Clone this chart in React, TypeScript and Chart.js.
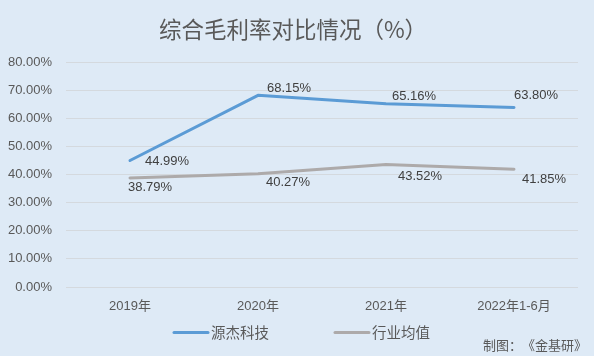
import React, { useEffect, useRef } from "react";
import { Chart, registerables } from "chart.js";

Chart.register(...registerables);

const categories = ["2019年", "2020年", "2021年", "2022年1-6月"];
const seriesNames = ["源杰科技", "行业均值"];
const yuanjieValues = [44.99, 68.15, 65.16, 63.8];
const industryValues = [38.79, 40.27, 43.52, 41.85];
const titleText = "综合毛利率对比情况（%）";
const footnoteParts = ["制图：", "《金基研》"];

const BG = "#DEEAF6";
const BLUE = "#5B9BD5";
const GRAY = "#ADAAAA";
const TEXT = "#595959";
const LABEL = "#404040";
const FONT = "'Liberation Sans', 'Noto Sans CJK SC', sans-serif";
const CJK = "'Noto Sans CJK SC', 'Liberation Sans', sans-serif";

// label offsets relative to each point (styling only)
const labelOffsets = [
  [[37, 1], [31, -7], [28, -7], [22, -12]],
  [[20, 10], [30, 9], [34, 12], [30, 10]],
];

const bgPlugin = {
  id: "bg",
  beforeDraw(chart: any) {
    const { ctx, width, height } = chart;
    ctx.save();
    ctx.fillStyle = BG;
    ctx.fillRect(0, 0, width, height);
    ctx.restore();
  },
};

const labelPlugin = {
  id: "valueLabels",
  afterDatasetsDraw(chart: any) {
    const { ctx } = chart;
    ctx.save();
    ctx.font = `13px ${FONT}`;
    ctx.fillStyle = LABEL;
    ctx.textAlign = "center";
    ctx.textBaseline = "middle";
    chart.data.datasets.forEach((ds: any, di: number) => {
      const meta = chart.getDatasetMeta(di);
      meta.data.forEach((pt: any, i: number) => {
        const [dx, dy] = labelOffsets[di][i];
        ctx.fillText(ds.data[i].toFixed(2) + "%", pt.x + dx, pt.y + dy);
      });
    });
    ctx.restore();
  },
};

const legendPlugin = {
  id: "customLegend",
  afterDraw(chart: any) {
    const { ctx } = chart;
    ctx.save();
    ctx.font = `14.5px ${CJK}`;
    ctx.textBaseline = "middle";
    ctx.textAlign = "left";
    const y = 332.5;
    let x = 174;
    chart.data.datasets.forEach((ds: any) => {
      ctx.strokeStyle = ds.borderColor;
      ctx.lineWidth = 3;
      ctx.lineCap = "round";
      ctx.beginPath();
      ctx.moveTo(x, y);
      ctx.lineTo(x + 34, y);
      ctx.stroke();
      ctx.fillStyle = TEXT;
      ctx.fillText(ds.label, x + 37, y);
      const w = ctx.measureText(ds.label).width;
      x += 37 + w + 66;
    });
    ctx.font = `13px ${CJK}`;
    ctx.fillText(footnoteParts[0], 483, 345);
    ctx.fillText(footnoteParts[1], 522, 345);
    ctx.restore();
  },
};

export default function App() {
  const ref = useRef<HTMLCanvasElement | null>(null);
  useEffect(() => {
    document.body.style.margin = "0";
    const chart = new Chart(ref.current as HTMLCanvasElement, {
      type: "line",
      data: {
        labels: categories,
        datasets: [
          {
            label: seriesNames[0],
            data: yuanjieValues,
            borderColor: BLUE,
            backgroundColor: BLUE,
            borderWidth: 3,
            pointRadius: 0,
            tension: 0,
            borderCapStyle: "round",
            borderJoinStyle: "round",
          },
          {
            label: seriesNames[1],
            data: industryValues,
            borderColor: GRAY,
            backgroundColor: GRAY,
            borderWidth: 3,
            pointRadius: 0,
            tension: 0,
            borderCapStyle: "round",
            borderJoinStyle: "round",
          },
        ],
      },
      options: {
        responsive: false,
        animation: false,
        layout: { padding: { left: 8, right: 16, bottom: 29, top: 0 } },
        plugins: {
          legend: { display: false },
          tooltip: { enabled: false },
          title: {
            display: true,
            text: titleText,
            color: TEXT,
            font: { size: 22.5, family: CJK, weight: "normal", lineHeight: 1.2 },
            padding: { top: 16, bottom: 19 },
          },
        },
        scales: {
          x: {
            offset: true,
            grid: { display: false, drawTicks: false },
            border: { display: false },
            ticks: {
              color: TEXT,
              font: { size: 13, family: FONT },
              padding: 12,
              maxRotation: 0,
              autoSkip: false,
            },
            afterFit: (s: any) => {
              s.height = 40;
              s.paddingLeft = 0;
              s.paddingRight = 0;
            },
          },
          y: {
            min: 0,
            max: 80,
            grid: { color: "#D4D9DE", lineWidth: 1, drawTicks: false },
            border: { display: false },
            ticks: {
              stepSize: 10,
              color: TEXT,
              font: { size: 13, family: FONT },
              padding: 14,
              callback: (v: any) => Number(v).toFixed(2) + "%",
            },
            afterFit: (s: any) => {
              s.width = 58;
              s.paddingTop = 0;
              s.paddingBottom = 0;
            },
          },
        },
      },
      plugins: [bgPlugin, labelPlugin, legendPlugin],
    });
    return () => chart.destroy();
  }, []);
  return (
    <div style={{ width: 594, height: 356 }}>
      <canvas ref={ref} width={594} height={356} />
    </div>
  );
}
